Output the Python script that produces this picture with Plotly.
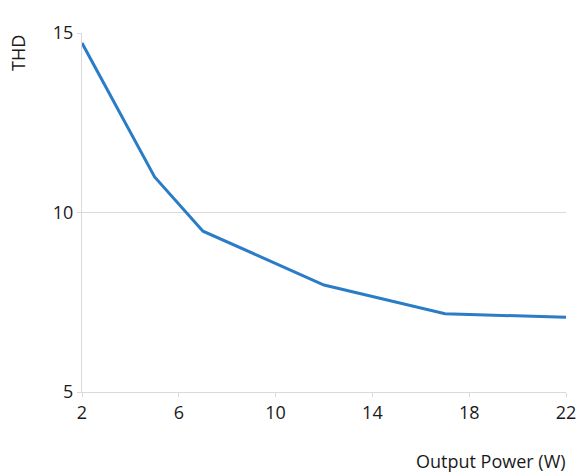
import plotly.graph_objects as go

power = [2, 5, 7, 12, 17, 22]
thd = [14.72, 10.99, 9.48, 7.98, 7.18, 7.08]
x_ticks = [2, 6, 10, 14, 18, 22]
y_ticks = [5, 10, 15]

fig = go.Figure()
fig.add_trace(go.Scatter(x=power, y=thd, mode="lines",
                         line=dict(color="#2a7cc7", width=3)))

font = dict(family="Open Sans", size=18, color="#1a1a1a")
fig.update_layout(
    width=581, height=473, autosize=False,
    margin=dict(l=82, r=15, t=33, b=81, autoexpand=False),
    paper_bgcolor="white", plot_bgcolor="white",
    showlegend=False, font=font,
    xaxis=dict(range=[2, 22], tickvals=x_ticks, showgrid=False,
               showline=True, linecolor="#d9d9d9", linewidth=1,
               ticks="outside", ticklen=4, tickcolor="#d9d9d9",
               tickfont=font, zeroline=False, automargin=False),
    yaxis=dict(range=[5, 15], tickvals=y_ticks, showgrid=True,
               gridcolor="#d9d9d9", gridwidth=1,
               showline=True, linecolor="#d9d9d9", linewidth=1,
               ticks="outside", ticklen=4, tickcolor="#d9d9d9",
               tickfont=font, zeroline=False, automargin=False),
    annotations=[
        dict(text="Output Power (W)", xref="paper", yref="paper",
             x=1, y=0, xanchor="right", yanchor="middle", yshift=-69,
             xshift=2, showarrow=False, font=font),
        dict(text="THD", xref="paper", yref="paper", x=0, y=1,
             xanchor="center", yanchor="top", xshift=-64,
             textangle=-90, showarrow=False, font=font),
    ],
)
fig.write_html("out.html", config={"displayModeBar": False},
               post_script="document.body.style.margin='0';document.body.style.overflow='hidden';")
